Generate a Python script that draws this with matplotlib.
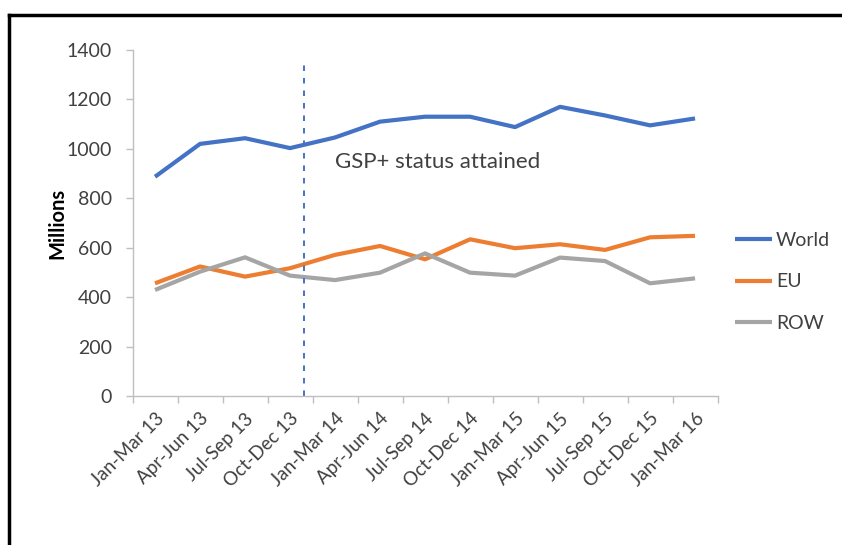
import matplotlib
matplotlib.use("Agg")
import matplotlib.pyplot as plt
import numpy as np

categories = ["Jan-Mar 13", "Apr-Jun 13", "Jul-Sep 13", "Oct-Dec 13", "Jan-Mar 14",
              "Apr-Jun 14", "Jul-Sep 14", "Oct-Dec 14", "Jan-Mar 15", "Apr-Jun 15",
              "Jul-Sep 15", "Oct-Dec 15", "Jan-Mar 16"]
world = [887, 1020, 1043, 1003, 1046, 1110, 1130, 1130, 1088, 1170, 1135, 1095, 1123]
eu = [456, 524, 483, 517, 571, 607, 553, 634, 598, 614, 591, 642, 648]
row = [429, 503, 561, 487, 469, 499, 577, 499, 487, 560, 546, 456, 476]
series_names = ["World", "EU", "ROW"]
colors = ["#4472C4", "#ED7D31", "#A5A5A5"]
yticks = [0, 200, 400, 600, 800, 1000, 1200, 1400]
gsp_pos = 3.3
annotation = "GSP+ status attained"

plt.rcParams['font.family'] = ['Lato', 'DejaVu Sans']
plt.rcParams['lines.scale_dashes'] = False

fig = plt.figure(figsize=(8.42, 5.45), dpi=100)
ax = fig.add_axes([0.1574, 0.2734, 0.6948, 0.6349])

x = np.arange(len(categories))
for vals, name, c in zip([world, eu, row], series_names, colors):
    ax.plot(x, vals, color=c, lw=3.0, label=name, solid_capstyle='butt')

ax.set_xlim(-0.5, len(categories) - 0.5)
ax.set_ylim(0, 1400)
ax.set_yticks(yticks)
ax.set_yticklabels([str(v) for v in yticks], fontsize=14, color='#404040')

ax.set_xticks(np.arange(-0.5, len(categories)), labels=[])
ax.set_xticks(x, minor=True)
ax.set_xticklabels(categories, minor=True, rotation=45, ha='right',
                   rotation_mode='anchor', fontsize=13.5, color='#404040')
ax.tick_params(axis='x', which='major', length=5, color='#BFBFBF', width=1)
ax.tick_params(axis='x', which='minor', length=0, pad=10)
ax.tick_params(axis='y', length=5, color='#BFBFBF', width=1, pad=10)

for s in ['top', 'right']:
    ax.spines[s].set_visible(False)
for s in ['left', 'bottom']:
    ax.spines[s].set_color('#BFBFBF')
    ax.spines[s].set_linewidth(1)

ax.set_ylabel("Millions", fontsize=14.5, fontweight='bold', labelpad=-1)

ax.plot([gsp_pos, gsp_pos], [0, 1352], color='#4472C4', lw=1.4,
        dashes=(4, 5), clip_on=False)
ax.text(4.0, 945, annotation, fontsize=16, color='#404040', va='center', ha='left')

ax.legend(loc='center left', bbox_to_anchor=(1.0, 0.33), frameon=False,
          fontsize=14, handlelength=1.9, handletextpad=0.2, labelspacing=1.25,
          labelcolor='#404040')

# black frame top/left
fig.add_artist(plt.Line2D([0.0107, 1.0], [0.9725, 0.9725], color='black', lw=2.5,
                          transform=fig.transFigure))
fig.add_artist(plt.Line2D([0.0107, 0.0107], [0.0, 0.9725], color='black', lw=2.5,
                          transform=fig.transFigure))

fig.savefig("out.png", dpi=100)
